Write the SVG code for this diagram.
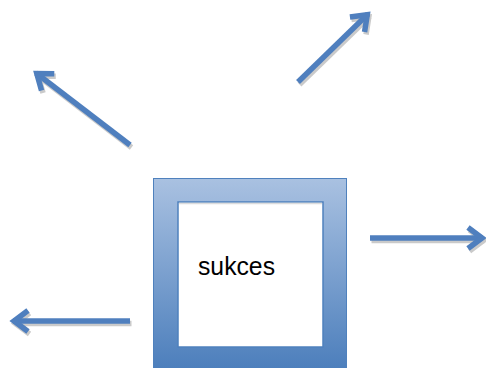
<svg xmlns="http://www.w3.org/2000/svg" width="486" height="368" viewBox="0 0 486 368">
<defs>
<linearGradient id="g" x1="0" y1="0" x2="0" y2="1">
<stop offset="0" stop-color="#a9c1e1"/>
<stop offset="1" stop-color="#4a7dbb"/>
</linearGradient>
<marker id="h" markerUnits="userSpaceOnUse" markerWidth="40" markerHeight="40" viewBox="-25 -20 40 40" refX="0" refY="0" orient="auto" overflow="visible">
<path d="M-15,-10.5 L-1,0 L-15,10.5" fill="none" stroke="#4f7fbe" stroke-width="5.5" stroke-linejoin="miter"/>
</marker>
<marker id="hs" markerUnits="userSpaceOnUse" markerWidth="40" markerHeight="40" viewBox="-25 -20 40 40" refX="0" refY="0" orient="auto" overflow="visible">
<path d="M-15,-10.5 L-1,0 L-15,10.5" fill="none" stroke="#cacaca" stroke-width="5.5" stroke-linejoin="miter"/>
</marker>
<style>
.a{fill:none;stroke:#4f7fbe;stroke-width:5.5;marker-end:url(#h)}
.s{fill:none;stroke:#cacaca;stroke-width:5.5;marker-end:url(#hs)}
.t{font-family:"Liberation Sans",Arial,sans-serif;font-size:26px;fill:#000}
</style>
</defs>
<g id="connectors">
<g transform="translate(1.5,2.5)">
<path class="s" d="M130,145 L36,73"/>
<path class="s" d="M298,82 L368,14"/>
<path class="s" d="M370,238 L483,238"/>
<path class="s" d="M130,321 L13,321"/>
</g>
<path class="a" d="M130,145 L36,73"/>
<path class="a" d="M298,82 L368,14"/>
<path class="a" d="M370,238 L483,238"/>
<path class="a" d="M130,321 L13,321"/>
</g>
<g id="sukces">
<rect x="153.5" y="178.5" width="193" height="195" fill="url(#g)" stroke="#4f81bd" stroke-width="1"/>
<rect x="178" y="202" width="145" height="145" fill="#fff" stroke="#4f81bd" stroke-width="1.5"/>
<line x1="179" y1="203.5" x2="322" y2="203.5" stroke="#dcdcdc" stroke-width="1.5"/>
<text class="t" x="198" y="275" textLength="77" lengthAdjust="spacingAndGlyphs">sukces</text>
</g>
</svg>
